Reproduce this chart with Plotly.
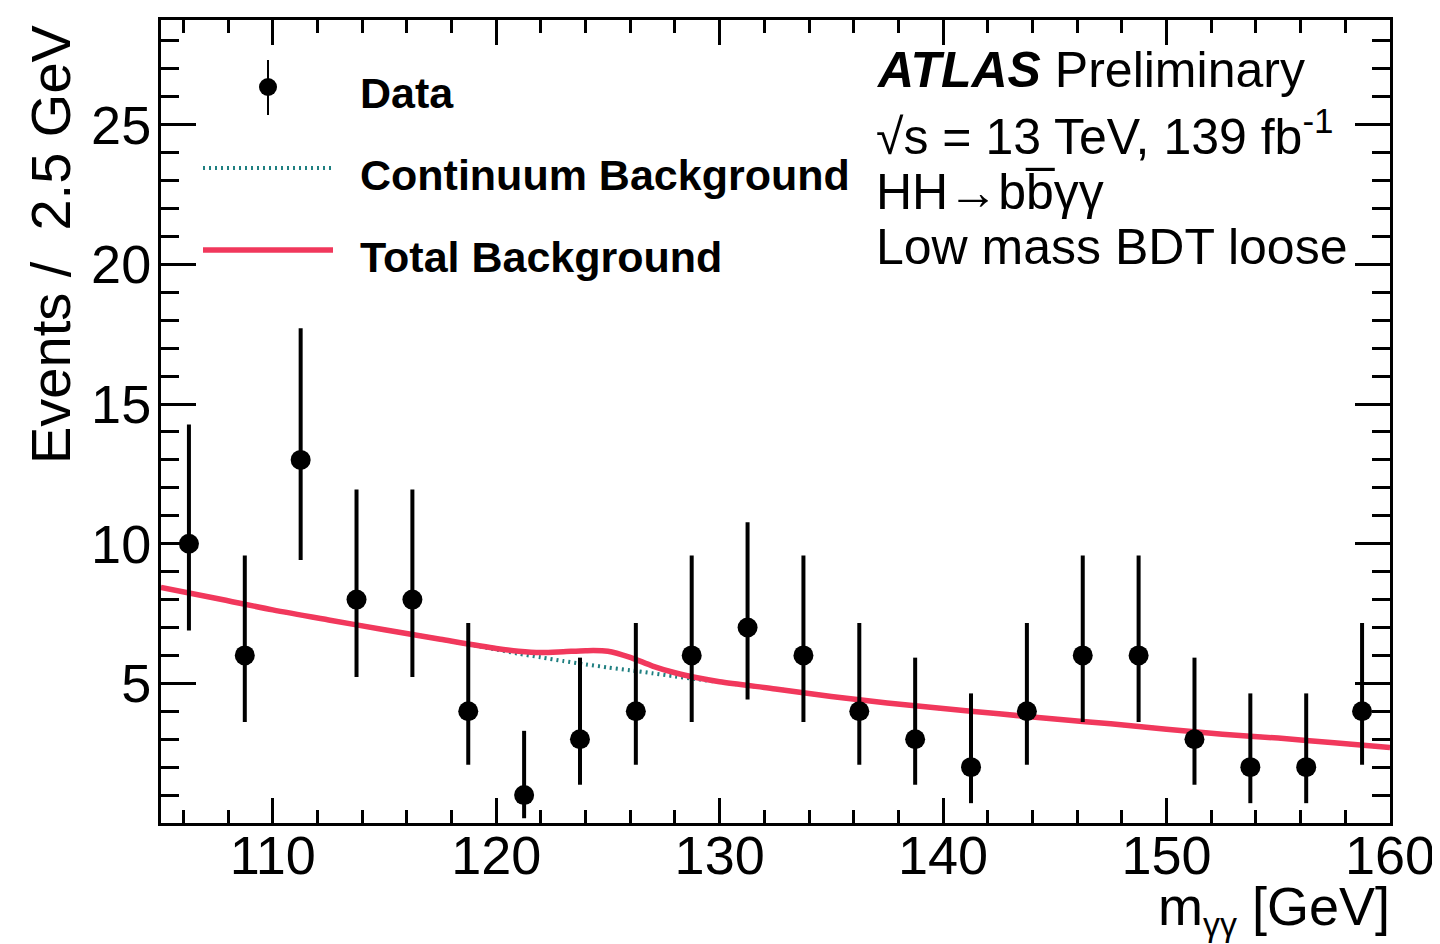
import plotly.graph_objects as go

# ---------------- data ----------------
bin_centers = [106.25, 108.75, 111.25, 113.75, 116.25, 118.75, 121.25, 123.75, 126.25, 128.75, 131.25,
               133.75, 136.25, 138.75, 141.25, 143.75, 146.25, 148.75, 151.25, 153.75, 156.25, 158.75]
data_counts = [10, 6, 13, 8, 8, 4, 1, 3, 4, 6, 7, 6, 4, 3, 2, 4, 6, 6, 3, 2, 2, 4]
err_up = [4.27, 3.58, 4.71, 3.94, 3.94, 3.16, 2.30, 2.92, 3.16, 3.58, 3.77,
          3.58, 3.16, 2.92, 2.64, 3.16, 3.58, 3.58, 2.92, 2.64, 2.64, 3.16]
err_dn = [3.11, 2.38, 3.58, 2.77, 2.77, 1.91, 0.83, 1.63, 1.91, 2.38, 2.58,
          2.38, 1.91, 1.63, 1.29, 1.91, 2.38, 2.38, 1.63, 1.29, 1.29, 1.91]

bkg_x = [105, 107.5, 110, 112.5, 115, 117.5, 120, 121, 122, 123, 124, 125, 126, 127, 128, 129, 130,
         132.5, 135, 137.5, 140, 142.5, 145, 147.5, 150, 152.5, 155, 157.5, 160]
continuum_bkg = [8.43, 8.04, 7.63, 7.27, 6.92, 6.58, 6.21, 6.06, 5.93, 5.80, 5.68, 5.57, 5.47, 5.36, 5.25, 5.15, 5.04,
                 4.80, 4.53, 4.30, 4.10, 3.91, 3.72, 3.55, 3.36, 3.18, 3.04, 2.87, 2.70]
total_bkg = [8.43, 8.04, 7.63, 7.27, 6.92, 6.58, 6.25, 6.15, 6.10, 6.13, 6.17, 6.15, 5.93, 5.62, 5.38, 5.20, 5.06,
             4.80, 4.53, 4.30, 4.10, 3.91, 3.72, 3.55, 3.36, 3.18, 3.04, 2.87, 2.70]

y_tick_vals = [5, 10, 15, 20, 25]

# ---------------- style ----------------
OFF = 8  # default page body margin
W, H = 1440 - OFF, 944 - OFF
L, R, T, B = 161, 1390, 20, 823  # plot area in page pixels
FONT = "Liberation Sans, Arial, Helvetica, sans-serif"
RED = "#f1385c"
TEAL = "#1f7f80"


def px(xp):
    return (xp - L) / (R - L)


def py(yp):
    return (B - yp) / (B - T)


fig = go.Figure()

fig.add_trace(go.Scatter(
    x=bkg_x, y=continuum_bkg, mode="lines", name="Continuum Background",
    line=dict(color=TEAL, width=4, dash="2px,4px", shape="spline", smoothing=0.8),
    showlegend=False))
fig.add_trace(go.Scatter(
    x=bkg_x, y=total_bkg, mode="lines", name="Total Background",
    line=dict(color=RED, width=5.5, shape="spline", smoothing=0.8),
    showlegend=False))
fig.add_trace(go.Scatter(
    x=bin_centers, y=data_counts, mode="markers", name="Data",
    marker=dict(color="black", size=20),
    error_y=dict(type="data", symmetric=False, array=err_up, arrayminus=err_dn,
                 color="black", thickness=4, width=0),
    showlegend=False))

shapes = []
annotations = []

# legend (manual)
shapes.append(dict(type="line", xref="paper", yref="paper", x0=px(268), x1=px(268), y0=py(60), y1=py(115),
                   line=dict(color="black", width=2)))
shapes.append(dict(type="circle", xref="paper", yref="paper", x0=px(259), x1=px(277), y0=py(78), y1=py(96),
                   fillcolor="black", line=dict(color="black", width=0)))
shapes.append(dict(type="line", xref="paper", yref="paper", x0=px(203), x1=px(333), y0=py(168), y1=py(168),
                   line=dict(color=TEAL, width=4, dash="2px,4px")))
shapes.append(dict(type="line", xref="paper", yref="paper", x0=px(203), x1=px(333), y0=py(250), y1=py(250),
                   line=dict(color=RED, width=5.5)))

for txt, yc in [("Data", 93), ("Continuum Background", 175), ("Total Background", 257)]:
    annotations.append(dict(text="<b>%s</b>" % txt, xref="paper", yref="paper", x=px(358), y=py(yc),
                            xanchor="left", yanchor="middle", showarrow=False,
                            font=dict(family=FONT, size=43, color="black")))

# ATLAS label
right_lines = [
    ("<b><i>ATLAS</i></b> Preliminary", 70),
    ("√s = 13 TeV, 139 fb<sup>-1</sup>", 133),
    ("HH→bb\u0305γγ", 192),
    ("Low mass BDT loose", 247),
]
for txt, yc in right_lines:
    annotations.append(dict(text=txt, xref="paper", yref="paper", x=px(874), y=py(yc),
                            xanchor="left", yanchor="middle", showarrow=False,
                            font=dict(family=FONT, size=50, color="black")))

# axis titles
annotations.append(dict(text="Events /  2.5 GeV", xref="paper", yref="paper", x=px(50), y=py(22),
                        xanchor="center", yanchor="top", textangle=-90, showarrow=False,
                        font=dict(family=FONT, size=56, color="black")))
annotations.append(dict(text="m<sub><span style='font-size:34px'>γγ</span></sub> [GeV]",
                        xref="paper", yref="paper", x=px(1392), y=py(909),
                        xanchor="right", yanchor="middle", showarrow=False,
                        font=dict(family=FONT, size=54, color="black")))

fig.update_layout(
    width=W, height=H,
    margin=dict(l=L - OFF, r=W - (R - OFF), t=T - OFF, b=H - (B - OFF), autoexpand=False),
    paper_bgcolor="white", plot_bgcolor="white",
    font=dict(family=FONT, size=52, color="black"),
    shapes=shapes, annotations=annotations,
    showlegend=False,
    xaxis=dict(range=[105, 160], tickmode="linear", tick0=0, dtick=10,
               ticks="inside", ticklen=25, tickwidth=2.5, tickcolor="black",
               showline=True, linecolor="black", linewidth=3, mirror="ticks",
               showgrid=False, zeroline=False, ticklabelstandoff=-17,
               tickfont=dict(family=FONT, size=54, color="black"),
               minor=dict(dtick=2, tick0=0, ticks="inside", ticklen=13, tickwidth=2.5, tickcolor="black",
                          showgrid=False)),
    yaxis=dict(range=[0, 28.75], tickmode="array", tickvals=y_tick_vals,
               ticks="inside", ticklen=35, tickwidth=2.5, tickcolor="black",
               showline=True, linecolor="black", linewidth=3, mirror="ticks",
               showgrid=False, zeroline=False, ticklabelstandoff=-4,
               tickfont=dict(family=FONT, size=54, color="black"),
               minor=dict(tickmode="linear", dtick=1, tick0=0, ticks="inside", ticklen=18, tickwidth=2.5,
                          tickcolor="black", showgrid=False)),
)

fig.write_html("out.html")
